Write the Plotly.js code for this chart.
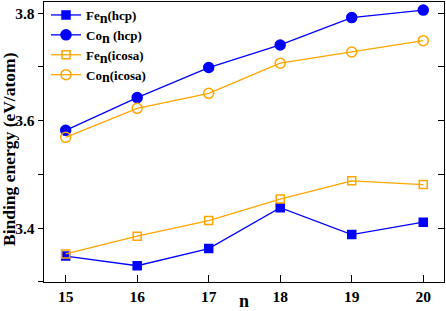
<!DOCTYPE html>
<html><head><meta charset="utf-8">
<script src="https://cdn.plot.ly/plotly-3.0.1.min.js"></script>
<style>html,body{margin:0;padding:0;background:#fff}#chart{width:446px;height:311px}</style>
</head><body><div id="chart"></div>
<script>
var n = [15, 16, 17, 18, 19, 20];
var feHcp = [3.348, 3.330, 3.362, 3.438, 3.388, 3.411];
var coHcp = [3.582, 3.643, 3.699, 3.741, 3.792, 3.806];
var feIcosa = [3.352, 3.385, 3.414, 3.454, 3.488, 3.481];
var coIcosa = [3.569, 3.623, 3.651, 3.707, 3.728, 3.749];
var xTicks = [15, 16, 17, 18, 19, 20];
var yTicks = [3.4, 3.6, 3.8];

var blue = '#0000ff', orange = '#ffa500';
function sub(t) { return '<sub><span style="font-size:14px">' + t + '</span></sub>'; }
function tr(y, name, color, symbol, size) {
  return {x: n, y: y, name: name, type: 'scatter', mode: 'lines+markers',
    line: {color: color, width: 1.3},
    marker: {symbol: symbol, size: size, color: color, line: {color: color, width: 1.5}}};
}
var data = [
  tr(feHcp, 'Fe' + sub('n') + '(hcp)', blue, 'square', 8),
  tr(coHcp, 'Co' + sub('n') + ' (hcp)', blue, 'circle', 10),
  tr(feIcosa, 'Fe' + sub('n') + '(icosa)', orange, 'square-open', 8),
  tr(coIcosa, 'Co' + sub('n') + '(icosa)', orange, 'circle-open', 10),
  {x: n, y: feHcp, yaxis: 'y2', type: 'scatter', mode: 'none', showlegend: false, hoverinfo: 'skip'}
];
var font = {family: 'Liberation Serif, Times New Roman, serif', color: '#000'};
var layout = {
  width: 446, height: 311,
  margin: {l: 44, r: 2, t: 1, b: 29},
  paper_bgcolor: '#fff', plot_bgcolor: '#fff',
  font: font,
  showlegend: true,
  legend: {x: 0.005, y: 1.005, xanchor: 'left', yanchor: 'top', bgcolor: 'rgba(0,0,0,0)',
    font: {family: font.family, size: 13, color: '#000', weight: 'bold'}, tracegroupgap: 0,
    itemwidth: 30},
  annotations: [{text: 'Binding energy (eV/atom)', textangle: -90, xref: 'paper', yref: 'paper',
    x: 0, y: 0.5, xanchor: 'center', yanchor: 'middle', xshift: -35, yshift: -7, showarrow: false,
    font: {family: font.family, size: 17.5, weight: 'bold', color: '#000'}}],
  xaxis: {range: [14.697, 20.29], tickvals: xTicks, ticktext: xTicks.map(String),
    ticks: 'inside', ticklen: 7, tickwidth: 1, tickcolor: '#000',
    showline: true, linecolor: '#000', linewidth: 1.3, mirror: true, showgrid: false, zeroline: false,
    tickfont: {family: font.family, size: 15.5, weight: 'bold'},
    title: {text: 'n', font: {family: font.family, size: 18, weight: 'bold'}, standoff: 0}},
  yaxis: {range: [3.2997, 3.821], tickvals: yTicks, ticktext: yTicks.map(function(v){return v.toFixed(1);}),
    ticks: 'outside', ticklen: 5, tickwidth: 1, tickcolor: '#000',
    minor: {dtick: 0.1, tick0: 3.3, ticks: 'outside', ticklen: 5, tickcolor: '#000', tickwidth: 1},
    showline: true, linecolor: '#000', linewidth: 1.3, mirror: true, showgrid: false, zeroline: false,
    tickfont: {family: font.family, size: 15.5, weight: 'bold'}},
  yaxis2: {range: [3.2997, 3.821], overlaying: 'y', side: 'right', tickvals: yTicks,
    showticklabels: false, ticks: 'inside', ticklen: 6, tickwidth: 1, tickcolor: '#000',
    minor: {dtick: 0.1, tick0: 3.3, ticks: 'inside', ticklen: 6, tickcolor: '#000', tickwidth: 1},
    showline: false, showgrid: false, zeroline: false}
};
Plotly.newPlot('chart', data, layout, {staticPlot: true, displayModeBar: false});
</script></body></html>
